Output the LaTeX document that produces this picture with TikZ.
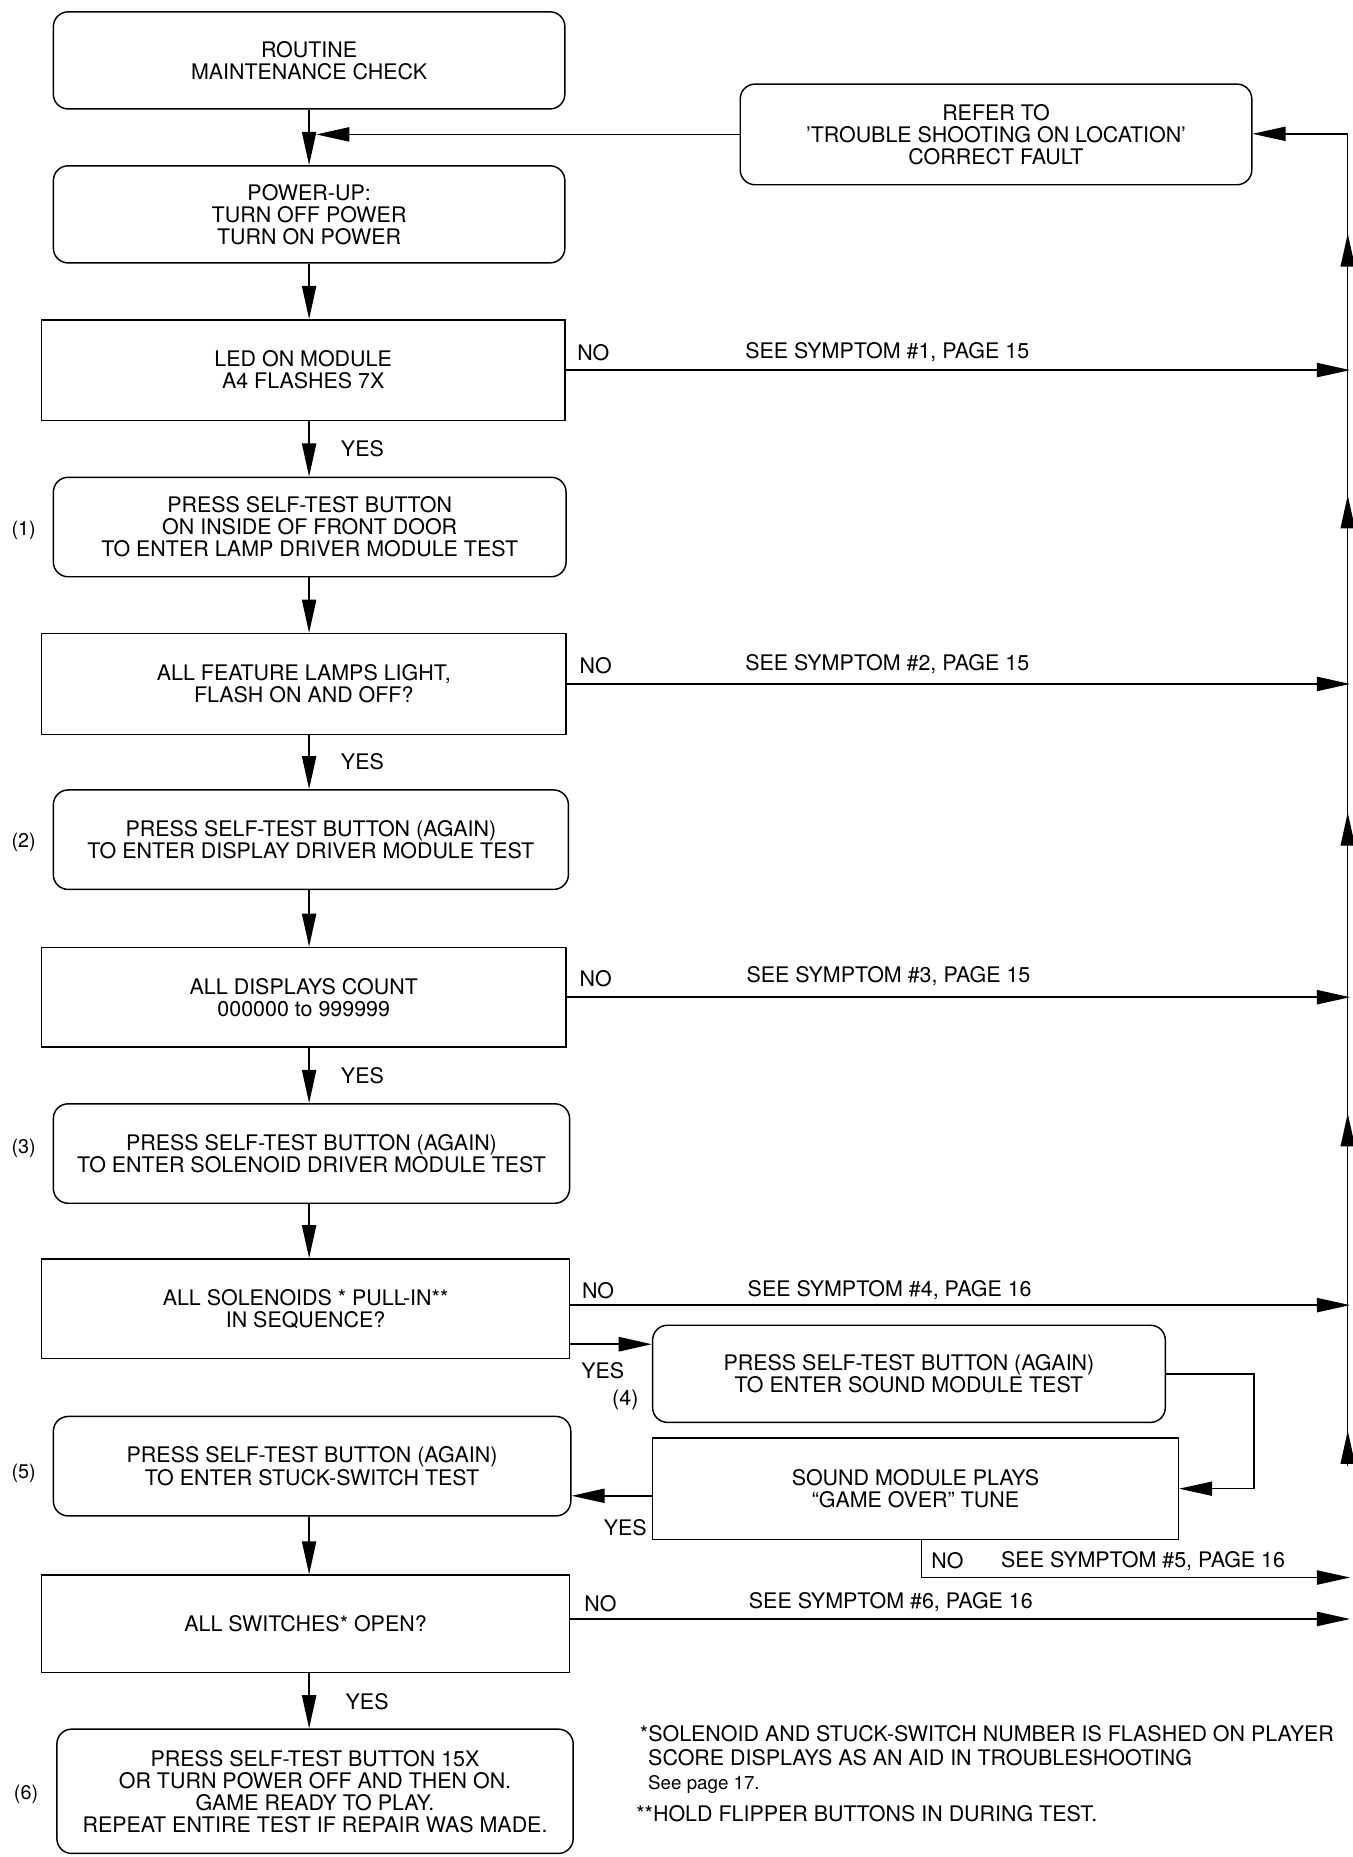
\documentclass[tikz,border=0pt]{standalone}
\usepackage{fontspec}
\setmainfont{TeX Gyre Heros}
\usetikzlibrary{arrows.meta,decorations.markings,calc}
\begin{document}
\begin{tikzpicture}[x=0.02cm,y=-0.02cm,
  every node/.style={font=\fontsize{10.3}{10.6}\selectfont, inner sep=0pt},
  rbox/.style={draw, rounded corners=0.25cm, line width=0.7pt, align=center},
  dbox/.style={draw, line width=0.7pt, align=center},
  conn/.style={line width=0.7pt},
  tipA/.tip={Triangle[length=0.56cm,width=0.24cm]},
  arr/.style={line width=0.7pt, -tipA},
  lbl/.style={font=\fontsize{10.3}{10.6}\selectfont},
  side/.style={font=\fontsize{9.5}{10}\selectfont},
]
\useasboundingbox (0,0) rectangle (1142,1568);

% main column
\node[rbox, minimum width=8.64cm, minimum height=1.64cm] (A) at (261,51) {ROUTINE\\MAINTENANCE CHECK};
\node[rbox, minimum width=8.64cm, minimum height=1.64cm] (B) at (261,181) {POWER-UP:\\TURN OFF POWER\\TURN ON POWER};
\node[dbox, minimum width=8.84cm, minimum height=1.70cm] (C) at (256,312.5) {LED ON MODULE\\A4 FLASHES 7X};
\node[rbox, minimum width=8.66cm, minimum height=1.68cm] (D) at (261.5,445) {PRESS SELF-TEST BUTTON\\ON INSIDE OF FRONT DOOR\\TO ENTER LAMP DRIVER MODULE TEST};
\node[dbox, minimum width=8.86cm, minimum height=1.70cm] (E) at (256.5,577.5) {ALL FEATURE LAMPS LIGHT,\\FLASH ON AND OFF?};
\node[rbox, minimum width=8.70cm, minimum height=1.68cm] (F) at (262.5,709) {PRESS SELF-TEST BUTTON (AGAIN)\\TO ENTER DISPLAY DRIVER MODULE TEST};
\node[dbox, minimum width=8.86cm, minimum height=1.68cm] (G) at (256.5,842) {ALL DISPLAYS COUNT\\000000 to 999999};
\node[rbox, minimum width=8.72cm, minimum height=1.68cm] (H) at (263,974) {PRESS SELF-TEST BUTTON (AGAIN)\\TO ENTER SOLENOID DRIVER MODULE TEST};
\node[dbox, minimum width=8.92cm, minimum height=1.68cm] (I) at (258,1105) {ALL SOLENOIDS * PULL-IN**\\IN SEQUENCE?};
\node[rbox, minimum width=8.66cm, minimum height=1.64cm] (J) at (767.5,1160) {PRESS SELF-TEST BUTTON (AGAIN)\\TO ENTER SOUND MODULE TEST};
\node[dbox, minimum width=8.88cm, minimum height=1.72cm] (K) at (773,1257) {SOUND MODULE PLAYS\\``GAME OVER'' TUNE};
\node[rbox, minimum width=8.74cm, minimum height=1.68cm] (L) at (263.5,1238) {PRESS SELF-TEST BUTTON (AGAIN)\\TO ENTER STUCK-SWITCH TEST};
\node[dbox, minimum width=8.92cm, minimum height=1.64cm] (M) at (258,1371) {ALL SWITCHES* OPEN?};
\node[rbox, minimum width=8.72cm, minimum height=2.10cm] (N) at (266,1512.5) {PRESS SELF-TEST BUTTON 15X\\OR TURN POWER OFF AND THEN ON.\\GAME READY TO PLAY.\\REPEAT ENTIRE TEST IF REPAIR WAS MADE.};
\node[rbox, minimum width=8.64cm, minimum height=1.70cm] (R) at (841,113.5) {REFER TO\\'TROUBLE SHOOTING ON LOCATION'\\CORRECT FAULT};

% helper coordinates
\coordinate (colx) at (261,0);
\coordinate (ax) at (267,0);
\coordinate (rbot) at (1138,1238);
\coordinate (rtop) at (1138,113);
\coordinate (iy) at (481,1135);
\coordinate (jk) at (1059,0);
\coordinate (ky) at (551,1263);
\coordinate (n5) at (1140,1332);
\coordinate (rx) at (1140,0);

% main column arrows
\draw[arr] (A.south -| colx) -- (B.north -| colx);
\draw[arr] (B.south -| colx) -- (C.north -| colx);
\draw[arr] (C.south -| colx) -- (D.north -| colx);
\draw[arr] (D.south -| colx) -- (E.north -| colx);
\draw[arr] (E.south -| colx) -- (F.north -| colx);
\draw[arr] (F.south -| colx) -- (G.north -| colx);
\draw[arr] (G.south -| colx) -- (H.north -| colx);
\draw[arr] (H.south -| colx) -- (I.north -| colx);
\draw[arr] (L.south -| colx) -- (M.north -| colx);
\draw[arr] (M.south -| colx) -- (N.north -| colx);

% refer box
\draw[arr] (R.west) -- (R.west -| ax);
\draw[conn, postaction={decorate}, decoration={markings,
   mark=at position 0.6cm with {\arrow{tipA}},
   mark=at position 5.96cm with {\arrow{tipA}},
   mark=at position 11.04cm with {\arrow{tipA}},
   mark=at position 16.4cm with {\arrow{tipA}},
   mark=at position 20.82cm with {\arrow{tipA}}}] (rbot) -- (rtop);
\draw[arr] (rtop) -- (rtop -| R.east);

% NO branches
\draw[arr] (C.east) -- (C.east -| rx);
\draw[arr] (E.east) -- (E.east -| rx);
\draw[arr] (G.east) -- (G.east -| rx);
\draw[arr] ([yshift=0.06cm]I.east) -- ([yshift=0.06cm]I.east -| rx);
\draw[arr] ([yshift=0.08cm]M.east) -- ([yshift=0.08cm]M.east -| rx);
\draw[arr] ([xshift=0.1cm]K.south) |- (n5);

% sound test branch
\draw[arr, line width=1.1pt] (iy) -- (iy -| J.west);
\draw[arr] (J.east) -- (J.east -| jk) -- (jk |- K.east) -- (K.east);
\draw[arr] (ky) -- (ky -| L.east);

% labels
\node[lbl] (no1) at (501,298) {NO};
\node[lbl] (no2) at (503,562) {NO};
\node[lbl] (no3) at (503,826) {NO};
\node[lbl] (no4) at (505,1090) {NO};
\node[lbl] (no5) at (800,1318) {NO};
\node[lbl] (no6) at (507,1354) {NO};
\node[lbl] (yes1) at (306,379) {YES};
\node[lbl] (yes2) at (306,643) {YES};
\node[lbl] (yes3) at (306,908) {YES};
\node[lbl] (yes4) at (509,1157) {YES};
\node[lbl] (yes5) at (528,1290) {YES};
\node[lbl] (yes6) at (310,1437) {YES};

\node[lbl, anchor=west] (s1) at (629,297) {SEE SYMPTOM \#1, PAGE 15};
\node[lbl, anchor=west] (s2) at (629,561) {SEE SYMPTOM \#2, PAGE 15};
\node[lbl, anchor=west] (s3) at (630,824) {SEE SYMPTOM \#3, PAGE 15};
\node[lbl, anchor=west] (s4) at (631,1089) {SEE SYMPTOM \#4, PAGE 16};
\node[lbl, anchor=west] (s5) at (845,1318) {SEE SYMPTOM \#5, PAGE 16};
\node[lbl, anchor=west] (s6) at (632,1353) {SEE SYMPTOM \#6, PAGE 16};

\node[side] (p1) at (20,448) {(1)};
\node[side] (p2) at (20,711) {(2)};
\node[side] (p3) at (20,970) {(3)};
\node[lbl] (p4) at (528,1182) {(4)};
\node[side] (p5) at (20,1244) {(5)};
\node[side] (p6) at (22,1515) {(6)};

% footnotes
\node[lbl, anchor=west] (fn1) at (540,1464) {*SOLENOID AND STUCK-SWITCH NUMBER IS FLASHED ON PLAYER};
\node[lbl, anchor=west] (fn2) at (547,1484) {SCORE DISPLAYS AS AN AID IN TROUBLESHOOTING};
\node[anchor=west, font=\fontsize{9}{10}\selectfont] (fn3) at (547,1507) {See page 17.};
\node[lbl, anchor=west] (fn4) at (537,1531) {**HOLD FLIPPER BUTTONS IN DURING TEST.};
\end{tikzpicture}
\end{document}
